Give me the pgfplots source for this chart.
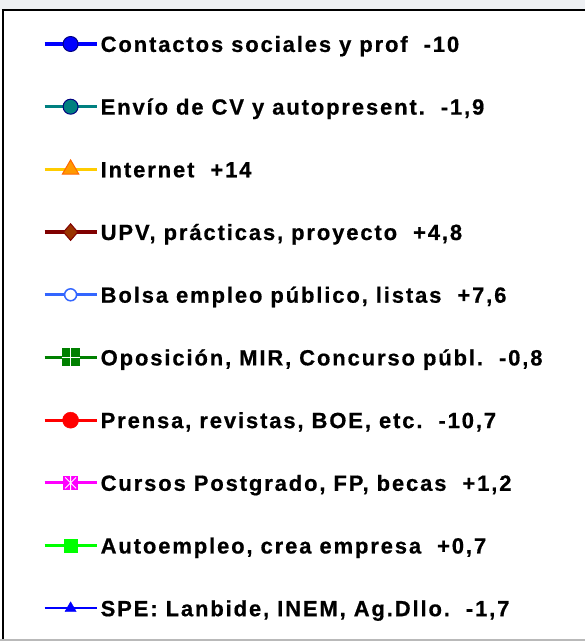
\documentclass[border=0pt]{standalone}
\usepackage{fontspec}
\usepackage{pgfplots}
\pgfplotsset{compat=1.18}
\newfontfamily\legfont{Liberation Sans}[LetterSpace=8.5, BoldFeatures={FakeBold=0.6}]
\definecolor{c1}{HTML}{0000FF}
\definecolor{c1b}{HTML}{000080}
\definecolor{c2}{HTML}{008080}
\definecolor{c3}{HTML}{FFCC00}
\definecolor{c3f}{HTML}{FF9900}
\definecolor{c3b}{HTML}{FF6600}
\definecolor{c4}{HTML}{800000}
\definecolor{c4f}{HTML}{993300}
\definecolor{c5}{HTML}{3366FF}
\definecolor{c6}{HTML}{008000}
\definecolor{c7}{HTML}{FF0000}
\definecolor{c8}{HTML}{FF00FF}
\definecolor{c9}{HTML}{00FF00}
\definecolor{topgray}{HTML}{EEF0F3}

% square with a white cross / white asterisk
\pgfdeclareplotmark{sqplus}{%
  \pgfpathrectanglecorners{\pgfqpoint{-\pgfplotmarksize}{-\pgfplotmarksize}}{\pgfqpoint{\pgfplotmarksize}{\pgfplotmarksize}}%
  \pgfusepathqfill
  \pgfsetstrokecolor{white}\pgfsetlinewidth{0.8bp}%
  \pgfpathmoveto{\pgfqpoint{-\pgfplotmarksize}{0pt}}\pgfpathlineto{\pgfqpoint{\pgfplotmarksize}{0pt}}%
  \pgfpathmoveto{\pgfqpoint{0pt}{-\pgfplotmarksize}}\pgfpathlineto{\pgfqpoint{0pt}{\pgfplotmarksize}}%
  \pgfusepathqstroke}
\pgfdeclareplotmark{sqast}{%
  \pgfpathrectanglecorners{\pgfqpoint{-\pgfplotmarksize}{-\pgfplotmarksize}}{\pgfqpoint{\pgfplotmarksize}{\pgfplotmarksize}}%
  \pgfusepathqfill
  \pgfsetstrokecolor{white}\pgfsetlinewidth{0.9bp}%
  \pgfpathmoveto{\pgfqpoint{-0.75\pgfplotmarksize}{-0.75\pgfplotmarksize}}\pgfpathlineto{\pgfqpoint{0.75\pgfplotmarksize}{0.75\pgfplotmarksize}}%
  \pgfpathmoveto{\pgfqpoint{-0.75\pgfplotmarksize}{0.75\pgfplotmarksize}}\pgfpathlineto{\pgfqpoint{0.75\pgfplotmarksize}{-0.75\pgfplotmarksize}}%
  \pgfpathmoveto{\pgfqpoint{0pt}{-\pgfplotmarksize}}\pgfpathlineto{\pgfqpoint{0pt}{\pgfplotmarksize}}%
  \pgfusepathqstroke}

\pgfplotsset{leglw/.initial=3.2bp}

\begin{document}
\begin{tikzpicture}
\fill[white] (0,0) rectangle (585bp,641bp);
\fill[topgray] (0,631bp) rectangle (585bp,641bp);
\begin{axis}[
  at={(0,0)}, anchor=south west,
  scale only axis, width=585bp, height=641bp,
  xmin=0, xmax=1, ymin=0, ymax=1,
  hide axis,
  legend image code/.code={%
    \draw[line width=\pgfkeysvalueof{/pgfplots/leglw}] (0bp,0bp) -- (52bp,0bp);
    \draw plot coordinates {(26bp,0bp)};},
  legend cell align=left,
  legend style={
    at={(axis description cs:0,1)}, anchor=north west,
    xshift=3bp, yshift=-10.5bp,
    draw=none, fill=none, outer sep=0pt,
    inner xsep=40bp, inner ysep=21.1bp,
    row sep=37.9bp, column sep=2.5bp,
    font=\legfont\bfseries\fontsize{22bp}{26bp}\selectfont,
    nodes={inner sep=0pt, text height=20.3bp, text depth=4.5bp},
  },
]
\addlegendimage{c1, mark=*, mark size=7.5bp, mark options={fill=c1, draw=c1b, line width=1bp}}
\addlegendentry{Contactos sociales y prof~~-10}
\addlegendimage{c2, mark=*, mark size=7.5bp, mark options={fill=c2, draw=c1b, line width=1bp}}
\addlegendentry{Envío de CV y autopresent.~~-1,9}
\addlegendimage{c3, mark=triangle*, mark size=9.5bp, mark options={fill=c3f, draw=c3b, line width=1bp}}
\addlegendentry{Internet~~+14}
\addlegendimage{c4, mark=diamond*, mark size=8.3bp, mark options={fill=c4f, draw=c4, line width=1bp, xscale=1.15}}
\addlegendentry{UPV, prácticas, proyecto~~+4,8}
\addlegendimage{c5, mark=*, mark size=6bp, mark options={fill=white, draw=c5, line width=1.5bp}}
\addlegendentry{Bolsa empleo público, listas~~+7,6}
\addlegendimage{c6, mark=sqplus, mark size=9bp, mark options={fill=c6}}
\addlegendentry{Oposición, MIR, Concurso públ.~~-0,8}
\addlegendimage{c7, mark=*, mark size=8bp, mark options={fill=c7, draw=c7, line width=0.5bp}}
\addlegendentry{Prensa, revistas, BOE, etc.~~-10,7}
\addlegendimage{c8, mark=sqast, mark size=7.3bp, mark options={fill=c8}}
\addlegendentry{Cursos Postgrado, FP, becas~~+1,2}
\addlegendimage{c9, leglw=2.2bp, mark=square*, mark size=6.5bp, mark options={fill=c9, draw=c9}}
\addlegendentry{Autoempleo, crea empresa~~+0,7}
\addlegendimage{c1, leglw=1.8bp, mark=triangle*, mark size=6.5bp, mark options={fill=c1, draw=c1}}
\addlegendentry{SPE: Lanbide, INEM, Ag.Dllo.~~-1,7}
\end{axis}
\draw[line width=2bp] (3bp,-5bp) -- (3bp,630.5bp) -- (600bp,630.5bp);
\draw[gray!55, line width=1.5bp] (0,1bp) -- (600bp,1bp);
\pgfresetboundingbox
\useasboundingbox (0,0) rectangle (585bp,641bp);
\end{tikzpicture}
\end{document}
